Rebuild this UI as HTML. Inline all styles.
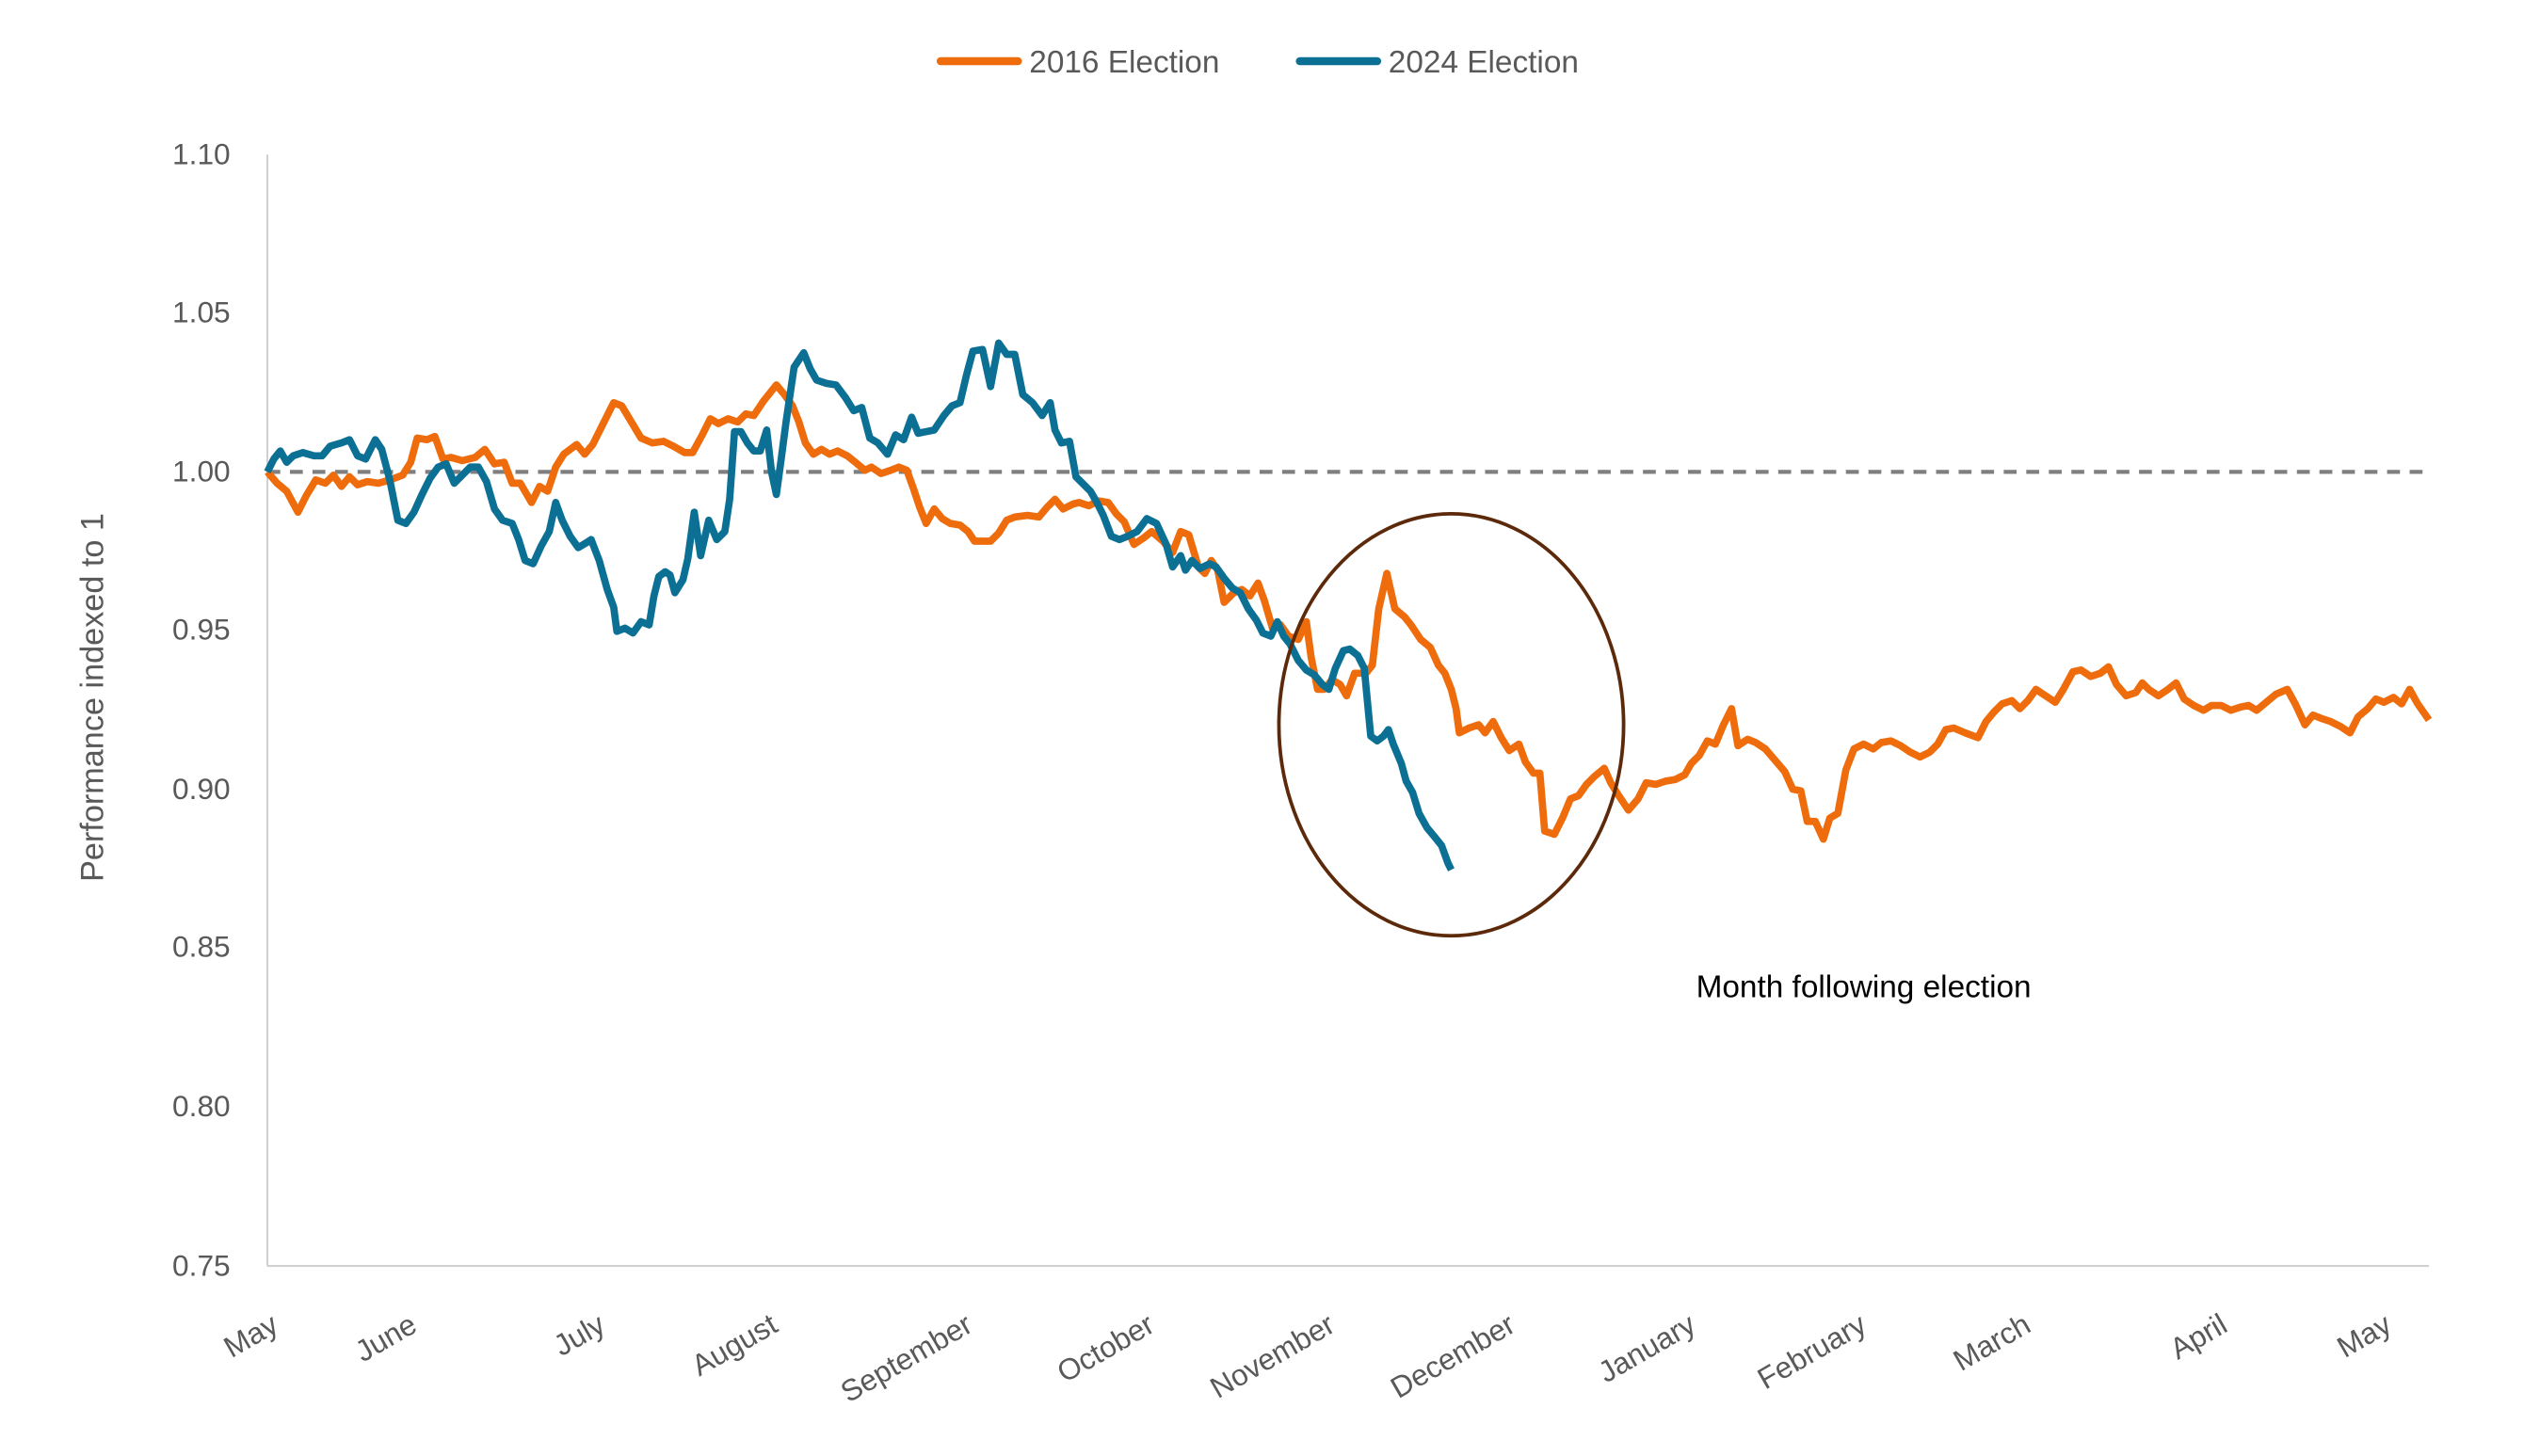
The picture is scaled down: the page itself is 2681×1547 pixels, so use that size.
<!DOCTYPE html>
<html><head><meta charset="utf-8"><style>
html,body{margin:0;padding:0;background:#fff;}
svg{display:block;}
text{font-family:"Liberation Sans",sans-serif;}
</style></head><body>
<svg width="2681" height="1547" viewBox="0 0 1567 904" preserveAspectRatio="none" xmlns="http://www.w3.org/2000/svg">
<rect width="1567" height="904" fill="#fff"/>
<!-- legend -->
<line x1="584" y1="38" x2="632" y2="38" stroke="#EE6C0C" stroke-width="5" stroke-linecap="round"/>
<text x="639" y="45" font-size="19.5" fill="#595959">2016 Election</text>
<line x1="807" y1="38" x2="855" y2="38" stroke="#0B7094" stroke-width="5" stroke-linecap="round"/>
<text x="862" y="45" font-size="19.5" fill="#595959">2024 Election</text>
<!-- axes -->
<line x1="166" y1="96" x2="166" y2="786" stroke="#D0D0D0" stroke-width="1.2"/>
<line x1="166" y1="786" x2="1508" y2="786" stroke="#D0D0D0" stroke-width="1.2"/>
<g font-size="18.5" fill="#595959" text-anchor="end">
<text x="143" y="102">1.10</text>
<text x="143" y="200">1.05</text>
<text x="143" y="299">1.00</text>
<text x="143" y="397">0.95</text>
<text x="143" y="496">0.90</text>
<text x="143" y="594">0.85</text>
<text x="143" y="693">0.80</text>
<text x="143" y="792">0.75</text>
</g>
<text transform="translate(64,433) rotate(-90)" font-size="20" fill="#595959" text-anchor="middle">Performance indexed to 1</text>
<g font-size="18.5" fill="#595959" text-anchor="end">
<text transform="translate(174,826) rotate(-30)">May</text>
<text transform="translate(260,826) rotate(-30)">June</text>
<text transform="translate(377,826) rotate(-30)">July</text>
<text transform="translate(484,826) rotate(-30)">August</text>
<text transform="translate(605,826) rotate(-30)">September</text>
<text transform="translate(718,826) rotate(-30)">October</text>
<text transform="translate(830,826) rotate(-30)">November</text>
<text transform="translate(942,826) rotate(-30)">December</text>
<text transform="translate(1054,826) rotate(-30)">January</text>
<text transform="translate(1160,826) rotate(-30)">February</text>
<text transform="translate(1262,826) rotate(-30)">March</text>
<text transform="translate(1384,826) rotate(-30)">April</text>
<text transform="translate(1486,826) rotate(-30)">May</text>
</g>
<line x1="166" y1="293" x2="1508" y2="293" stroke="#7F7F7F" stroke-width="2.5" stroke-dasharray="8,6"/>
<polyline fill="none" stroke="#EE6C0C" stroke-width="4.5" stroke-linejoin="round" points="166,293 172,300 178,305 185,318 190,308 196,298 202,300 207,295 212,302 217,296 222,301 228,299 235,300 242,298 250,295 255,287 259,272 265,273 270,271 275,285 280,284 287,286 295,284 301,279 307,288 313,287 318,300 323,300 330,312 335,302 340,305 345,290 350,282 358,276 363,282 368,276 374,264 381,250 386,252 392,262 398,272 405,275 412,274 418,277 425,281 430,281 436,270 441,260 446,263 452,260 458,262 463,257 468,258 474,249 482,239 487,245 492,252 496,262 500,275 505,282 510,279 515,282 520,280 526,283 531,287 537,292 541,290 547,294 553,292 558,290 563,292 567,303 571,315 575,325 580,316 585,322 590,325 596,326 601,330 605,336 610,336 615,336 620,331 625,323 630,321 638,320 645,321 650,315 655,310 660,316 666,313 670,312 676,314 682,311 688,312 693,319 698,324 704,338 710,334 715,330 722,336 728,343 733,330 738,332 744,352 748,356 752,348 756,354 760,374 766,368 771,366 776,370 781,362 785,373 790,390 795,388 800,395 806,397 811,386 814,408 818,428 822,428 827,422 832,425 836,432 841,418 848,418 852,413 856,378 861,356 866,378 872,383 876,388 882,397 888,402 893,413 897,418 901,428 904,440 906,455 912,452 918,450 922,455 927,448 932,458 937,466 943,462 947,473 952,480 956,480 959,516 965,518 970,508 975,496 980,494 985,487 990,482 996,477 1000,486 1005,494 1011,503 1017,496 1022,486 1028,487 1034,485 1040,484 1046,481 1050,474 1055,469 1060,460 1065,462 1070,450 1075,440 1079,463 1085,459 1090,461 1096,465 1102,472 1108,479 1113,490 1118,491 1122,510 1127,510 1132,521 1136,508 1141,505 1146,478 1151,465 1157,462 1163,465 1168,461 1174,460 1180,463 1186,467 1192,470 1198,467 1203,462 1208,453 1213,452 1220,455 1228,458 1233,448 1238,442 1243,437 1249,435 1254,440 1259,435 1264,428 1270,432 1276,436 1281,428 1287,417 1292,416 1298,420 1304,418 1309,414 1314,425 1320,432 1326,430 1330,424 1334,428 1340,432 1346,428 1351,424 1356,434 1362,438 1368,441 1373,438 1379,438 1385,441 1391,439 1396,438 1401,441 1407,436 1413,431 1420,428 1425,437 1431,450 1436,444 1441,446 1447,448 1453,451 1459,455 1464,445 1470,440 1475,434 1480,436 1486,433 1491,437 1496,428 1501,437 1508,447"/>
<polyline fill="none" stroke="#0B7094" stroke-width="4.5" stroke-linejoin="round" points="166,293 170,285 174,280 178,287 182,283 188,281 195,283 200,283 205,277 212,275 217,273 222,283 227,285 233,273 237,279 242,298 247,323 252,325 257,318 262,307 267,297 272,290 277,288 282,300 287,295 292,290 297,290 302,299 307,316 312,323 318,325 322,335 326,348 331,350 336,339 341,330 345,312 349,323 354,333 359,340 364,337 367,335 372,348 377,366 381,377 383,392 388,390 393,393 398,386 403,388 406,370 409,358 413,355 416,357 419,368 424,360 427,347 431,318 435,345 440,323 445,335 450,330 453,310 456,268 460,268 464,275 468,280 472,280 476,267 479,293 482,307 485,285 488,262 493,228 499,219 503,229 507,236 513,238 519,239 525,247 530,255 535,253 540,272 545,275 551,282 556,270 561,273 566,259 570,269 575,268 580,267 586,258 591,252 596,250 600,233 604,218 610,217 615,240 620,213 625,220 630,220 635,245 641,250 647,258 652,250 655,267 659,275 664,274 668,296 672,300 677,305 681,312 685,320 690,333 695,335 700,333 706,330 712,322 718,325 724,338 728,352 733,345 736,354 740,348 745,353 751,350 755,352 760,359 765,365 770,368 775,378 780,385 784,393 789,395 793,386 797,395 801,400 806,410 811,416 816,419 821,425 825,428 829,415 834,404 838,403 843,407 847,415 851,457 855,460 859,457 862,453 865,462 870,474 873,485 877,492 881,505 886,514 891,520 895,525 899,536 901,540"/>
<ellipse cx="901" cy="450" rx="107" ry="131" fill="none" stroke="#5C2A0A" stroke-width="2.2"/>
<text x="1053" y="619" font-size="19.5" fill="#000">Month following election</text>
</svg>
</body></html>
